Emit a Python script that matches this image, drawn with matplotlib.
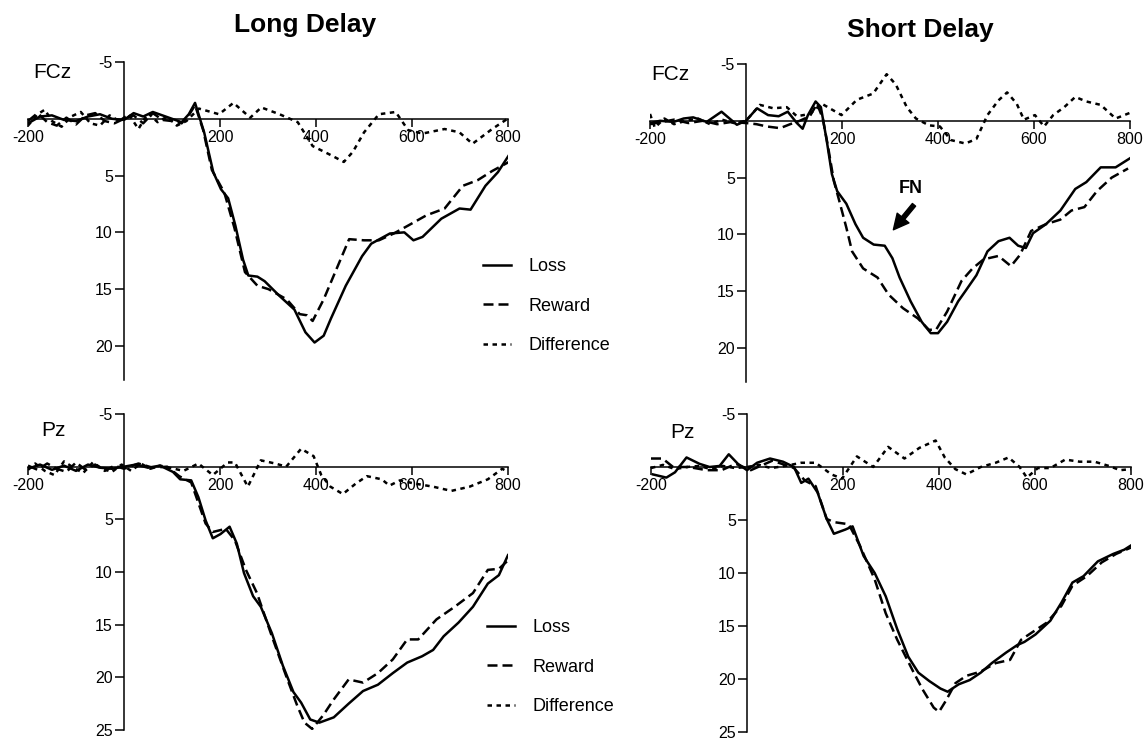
import numpy as np
import matplotlib
matplotlib.use('Agg')
import matplotlib.pyplot as plt

plt.rcParams['font.family'] = ['Liberation Sans', 'DejaVu Sans']
plt.rcParams['axes.unicode_minus'] = False

# ---- FCz, long delay ----
fcz_long_t_loss = [-200, -175, -150, -125, -100, -75, -50, -25, 0, 20, 40, 60, 80, 100, 120, 135, 148,
                   167, 186, 202, 217, 232, 248, 259, 278, 293, 324, 355, 378, 397, 416, 431, 462, 496,
                   515, 554, 584, 603, 622, 661, 699, 722, 753, 779, 802]
fcz_long_loss = [0.4, -0.2, -0.3, 0.1, 0.2, -0.2, -0.4, 0.0, 0.1, -0.5, -0.2, -0.6, -0.3, 0.0, 0.3, -0.4, -1.4,
                 1.2, 4.7, 6.2, 7.0, 9.4, 12.4, 13.8, 13.9, 14.3, 15.6, 16.8, 18.8, 19.7, 19.1, 17.6, 14.7, 12.1,
                 11.0, 10.1, 10.0, 10.7, 10.4, 8.8, 7.9, 8.0, 5.9, 4.7, 3.2]
fcz_long_t_rew = [-200, -180, -160, -140, -120, -100, -80, -60, -40, -20, 0, 20, 40, 60, 80, 100, 120, 135, 148,
                  165, 183, 209, 230, 252, 278, 301, 339, 366, 381, 393, 416, 446, 469, 500, 531, 562, 592,
                  630, 668, 706, 737, 767, 802]
fcz_long_rew = [0.2, -0.5, 0.3, 0.6, -0.1, 0.5, -0.3, -0.5, 0.2, 0.4, 0.0, -0.3, 0.4, -0.5, 0.1, 0.2, 0.4, -0.3, -1.2,
                1.0, 4.5, 6.5, 9.6, 13.5, 14.7, 15.0, 15.9, 17.2, 17.3, 17.8, 15.9, 12.9, 10.6, 10.7, 10.7, 10.1, 9.4,
                8.5, 7.9, 5.9, 5.4, 4.6, 3.8]
fcz_long_t_diff = [-200, -180, -165, -150, -130, -110, -90, -70, -50, -30, -10, 10, 30, 50, 70, 90, 110, 130, 156,
                   198, 228, 263, 286, 324, 362, 393, 431, 458, 477, 500, 531, 566, 592, 622, 668, 699, 726,
                   767, 799]
fcz_long_diff = [0.6, -0.4, -0.8, 0.2, 0.7, -0.2, -0.6, 0.4, 0.6, -0.3, 0.2, -0.4, 0.9, -0.5, 0.3, -0.2, 0.6, 0.2, -0.9,
                 -0.4, -1.4, -0.1, -1.0, -0.4, 0.3, 2.4, 3.2, 3.8, 2.9, 1.2, -0.4, -0.6, 1.0, 1.3, 0.9, 1.2, 2.2,
                 0.9, 0.0]

# ---- FCz, short delay ----
fcz_short_t_loss = [-200, -179, -151, -130, -110, -82, -51, -19, 0, 23, 46, 68, 87, 106, 118, 129, 145, 156,
                    168, 179, 190, 209, 228, 244, 266, 289, 305, 320, 343, 366, 385, 400, 419, 442, 457, 480,
                    503, 526, 549, 567, 583, 598, 625, 655, 686, 709, 739, 770, 800]
fcz_short_loss = [0.2, 0.0, 0.1, -0.2, -0.3, 0.1, -0.8, 0.35, 0.0, -1.1, -0.5, -0.4, -0.8, 0.2, 0.7, -0.5, -1.7, -1.2,
                  1.7, 4.7, 6.2, 7.3, 9.1, 10.3, 10.9, 11.0, 12.1, 13.8, 15.9, 17.7, 18.7, 18.7, 17.7, 15.9, 15.0, 13.6,
                  11.5, 10.6, 10.3, 11.0, 11.2, 9.9, 9.1, 7.9, 6.0, 5.4, 4.1, 4.1, 3.3]
fcz_short_t_rew = [-200, -175, -150, -120, -90, -60, -30, 0, 22, 43, 71, 92, 112, 133, 148, 160,
                   171, 183, 194, 209, 221, 244, 274, 297, 327, 358, 381, 396, 419, 449, 472, 495, 526, 552,
                   571, 594, 625, 655, 678, 705, 731, 762, 796]
fcz_short_rew = [0.3, 0.1, -0.1, 0.2, 0.0, 0.3, 0.1, 0.2, 0.3, 0.5, 0.65, 0.3, 0.0, -0.4, -1.5, -0.2,
                 2.3, 5.3, 7.0, 9.4, 11.5, 13.0, 13.8, 15.3, 16.5, 17.4, 18.4, 18.4, 16.8, 14.1, 13.0, 12.2, 11.9, 12.8,
                 11.8, 9.7, 9.1, 8.7, 7.9, 7.6, 6.2, 5.0, 4.2]
fcz_short_t_diff = [-200, -190, -170, -150, -125, -100, -75, -50, -25, 0, 29, 57, 85, 106, 133, 158, 199, 231,
                    265, 293, 312, 335, 354, 381, 404, 427, 457, 480, 503, 526, 544, 564, 579, 602, 621, 640,
                    663, 686, 709, 739, 770, 800]
fcz_short_diff = [-0.6, 0.6, -0.2, 0.3, 0.0, -0.2, 0.3, -0.1, 0.2, 0.0, -1.4, -1.1, -1.2, -0.4, -0.6, -1.5, -0.5, -1.85,
                  -2.4, -4.1, -3.2, -1.2, -0.2, 0.4, 0.5, 1.7, 2.0, 1.6, -0.5, -1.8, -2.5, -1.5, -0.1, -0.5, 0.5, -0.5,
                  -1.2, -2.1, -1.7, -1.4, -0.2, -0.7]

# ---- Pz, long delay ----
pz_long_t_loss = [-200, -175, -150, -125, -100, -75, -50, -25, 0, 25, 50, 75, 102, 117, 140, 155, 170, 185,
                  201, 220, 235, 250, 269, 285, 308, 331, 353, 369, 388, 407, 437, 468, 498, 529, 560, 590,
                  621, 644, 666, 697, 727, 758, 781, 800]
pz_long_loss = [0.2, -0.2, 0.3, -0.1, 0.4, -0.2, 0.1, 0.2, 0.0, -0.2, 0.1, -0.1, 0.5, 1.2, 1.3, 2.9, 5.1, 6.8,
                6.4, 5.7, 7.3, 10.1, 12.3, 13.3, 15.8, 18.9, 21.4, 22.4, 24.0, 24.3, 23.8, 22.5, 21.3, 20.7, 19.6, 18.6,
                18.0, 17.4, 16.1, 14.8, 13.3, 11.1, 10.3, 8.4]
pz_long_t_rew = [-200, -180, -160, -140, -120, -100, -80, -60, -40, -20, 0, 30, 60, 90, 115, 140, 170, 185,
                 212, 231, 254, 277, 308, 338, 361, 376, 392, 415, 437, 468, 498, 529, 560, 590, 613, 651,
                 689, 727, 758, 781, 800]
pz_long_rew = [-0.1, 0.3, -0.3, 0.2, 0.5, -0.4, 0.3, -0.2, 0.4, -0.1, 0.2, -0.3, 0.1, 0.0, 0.9, 1.5, 5.4, 6.2,
               5.9, 7.0, 9.8, 12.0, 16.1, 19.9, 22.7, 24.3, 24.9, 23.6, 22.1, 20.2, 20.5, 19.6, 18.3, 16.4, 16.4, 14.5,
               13.3, 12.0, 9.8, 9.7, 8.9]
pz_long_t_diff = [-200, -185, -165, -145, -125, -105, -85, -65, -45, -25, -5, 15, 35, 55, 75, 95, 124, 155, 185,
                  216, 231, 258, 285, 315, 338, 369, 395, 411, 430, 456, 483, 506, 537, 553, 575, 605, 644,
                  682, 720, 758, 788, 800]
pz_long_diff = [0.3, -0.3, 0.4, 0.8, -0.5, 0.1, 0.6, -0.4, 0.2, 0.5, -0.2, 0.4, -0.3, 0.2, -0.1, 0.1, 0.4, -0.3, 0.8,
                -0.4, -0.4, 1.9, -0.6, -0.3, 0.0, -1.7, -1.0, 0.8, 1.9, 2.6, 1.6, 0.9, 1.2, 1.8, 1.3, 1.6, 1.9,
                2.3, 1.9, 1.2, 0.2, 0.5]

# ---- Pz, short delay ----
pz_short_t_loss = [-196, -168, -150, -126, -99, -78, -57, -38, -19, 0, 21, 48, 75, 98, 113, 128, 147, 166,
                   181, 205, 220, 243, 266, 289, 313, 336, 357, 380, 403, 418, 441, 464, 487, 510, 540, 563,
                   578, 601, 632, 655, 678, 701, 731, 763, 786, 800]
pz_short_loss = [0.7, 1.0, 0.5, -0.9, -0.3, 0.0, -0.1, -1.2, -0.3, 0.3, -0.4, -0.8, -0.5, 0.0, 1.5, 1.1, 2.4, 4.9,
                 6.3, 5.9, 5.6, 8.4, 10.0, 12.2, 15.3, 17.9, 19.4, 20.2, 20.9, 21.2, 20.5, 20.1, 19.4, 18.5, 17.5, 16.8,
                 16.5, 15.8, 14.5, 12.8, 10.9, 10.3, 8.9, 8.2, 7.8, 7.4]
pz_short_t_rew = [-200, -176, -154, -122, -84, -53, -23, 8, 53, 98, 121, 143, 166, 181, 212, 235, 266, 289,
                  313, 344, 366, 389, 400, 415, 434, 457, 487, 518, 548, 571, 594, 624, 655, 678, 708, 739,
                  769, 800]
pz_short_rew = [-0.8, -0.8, 0.0, 0.0, 0.3, 0.3, -0.3, 0.3, -0.6, 0.1, 1.3, 1.8, 4.9, 5.2, 5.4, 7.4, 10.6, 13.8,
                16.3, 19.1, 21.0, 22.7, 23.1, 22.0, 20.4, 19.7, 19.3, 18.5, 18.2, 16.3, 15.6, 14.7, 13.1, 11.2, 10.3, 9.0,
                8.2, 7.6]
pz_short_t_diff = [-200, -175, -150, -125, -100, -75, -50, -25, 0, 25, 50, 80, 113, 143, 176, 198, 229, 263, 294,
                   328, 359, 393, 412, 434, 457, 487, 518, 545, 568, 583, 606, 632, 663, 693, 724, 754, 777, 800]
pz_short_diff = [0.1, -0.2, 0.2, 0.0, -0.1, 0.2, -0.1, 0.1, 0.0, -0.2, 0.1, -0.1, -0.4, -0.4, 0.7, 1.1, -1.0, 0.0, -1.9,
                 -0.8, -1.8, -2.5, -0.9, 0.2, 0.7, 0.0, -0.4, -0.9, 0.0, 1.0, 0.1, 0.1, -0.7, -0.5, -0.5, -0.1, 0.3, 0.2]

panels = [
    ('FCz', (fcz_long_t_loss, fcz_long_loss), (fcz_long_t_rew, fcz_long_rew), (fcz_long_t_diff, fcz_long_diff)),
    ('FCz', (fcz_short_t_loss, fcz_short_loss), (fcz_short_t_rew, fcz_short_rew), (fcz_short_t_diff, fcz_short_diff)),
    ('Pz', (pz_long_t_loss, pz_long_loss), (pz_long_t_rew, pz_long_rew), (pz_long_t_diff, pz_long_diff)),
    ('Pz', (pz_short_t_loss, pz_short_loss), (pz_short_t_rew, pz_short_rew), (pz_short_t_diff, pz_short_diff)),
]

xticks = [-200, 200, 400, 600, 800]
yticks_top = [-5, 5, 10, 15, 20]
yticks_bottom = [-5, 5, 10, 15, 20, 25]

W, H = 1148, 739
fig = plt.figure(figsize=(W / 100, H / 100), dpi=100)

# axes boxes in pixels: left, top, right, bottom
boxes = [(28, 62, 508, 380), (650, 64, 1130, 382), (28, 414, 508, 730), (651, 414, 1131, 732)]
ylims = [(23, -5), (23, -5), (25, -5), (25, -5)]
axes = []
for (l, t, r, b) in boxes:
    axes.append(fig.add_axes([l / W, 1 - b / H, (r - l) / W, (b - t) / H]))

lw = 1.8
style = dict(color='black', lw=lw, solid_joinstyle='round', dash_joinstyle='round')
for i, (ax, (site, loss, rew, diff)) in enumerate(zip(axes, panels)):
    ax.plot(loss[0], loss[1], ls='-', label='Loss', **style)
    ax.plot(rew[0], rew[1], ls=(0, (4, 2)), label='Reward', **style)
    ax.plot(diff[0], diff[1], ls=(0, (1.8, 1.8)), label='Difference', **style)
    ax.set_xlim(-200, 800)
    ax.set_ylim(*ylims[i])
    for s in ('top', 'right'):
        ax.spines[s].set_visible(False)
    ax.spines['left'].set_position(('data', 0))
    ax.spines['bottom'].set_position(('data', 0))
    ax.spines['left'].set_linewidth(1.1)
    ax.spines['bottom'].set_linewidth(1.1)
    ax.set_xticks(xticks)
    ax.set_yticks(yticks_top if i < 2 else yticks_bottom)
    ax.tick_params(axis='x', direction='out', length=6, width=1.1, pad=2, labelsize=11.5)
    ax.tick_params(axis='y', direction='out', length=6.5, width=1.1, pad=1.5, labelsize=11.5)
    ax.patch.set_visible(False)

# electrode labels
fig.text(52 / W, 1 - 73 / H, 'FCz', fontsize=15, ha='center', va='center')
fig.text(670 / W, 1 - 75 / H, 'FCz', fontsize=15, ha='center', va='center')
fig.text(53 / W, 1 - 430 / H, 'Pz', fontsize=15, ha='center', va='center')
fig.text(682 / W, 1 - 432 / H, 'Pz', fontsize=15, ha='center', va='center')

# titles
fig.text(305 / W, 1 - 25 / H, 'Long Delay', fontsize=19, fontweight='bold', ha='center', va='center')
fig.text(920 / W, 1 - 30 / H, 'Short Delay', fontsize=19, fontweight='bold', ha='center', va='center')

# legends
for ax, (lx, ly) in [(axes[0], (483, 258)), (axes[2], (487, 619))]:
    ax.legend(loc='upper left', bbox_to_anchor=(lx / W, 1 - ly / H), bbox_transform=fig.transFigure,
              frameon=False, fontsize=13, handlelength=1.55, handletextpad=0.95, labelspacing=1.25,
              borderpad=0, borderaxespad=0)

# FN arrow on short delay FCz
fn_text = (343, 6.0)
fn_tail = (350, 7.4)
fn_tip = (307, 9.6)
axes[1].text(*fn_text, 'FN', fontsize=13, fontweight='bold', ha='center', va='center')
axes[1].annotate('', xy=fn_tip, xytext=fn_tail,
                 arrowprops=dict(facecolor='black', edgecolor='black', width=3, headwidth=11,
                                 headlength=11, shrink=0))

fig.savefig('out.png', dpi=100)
